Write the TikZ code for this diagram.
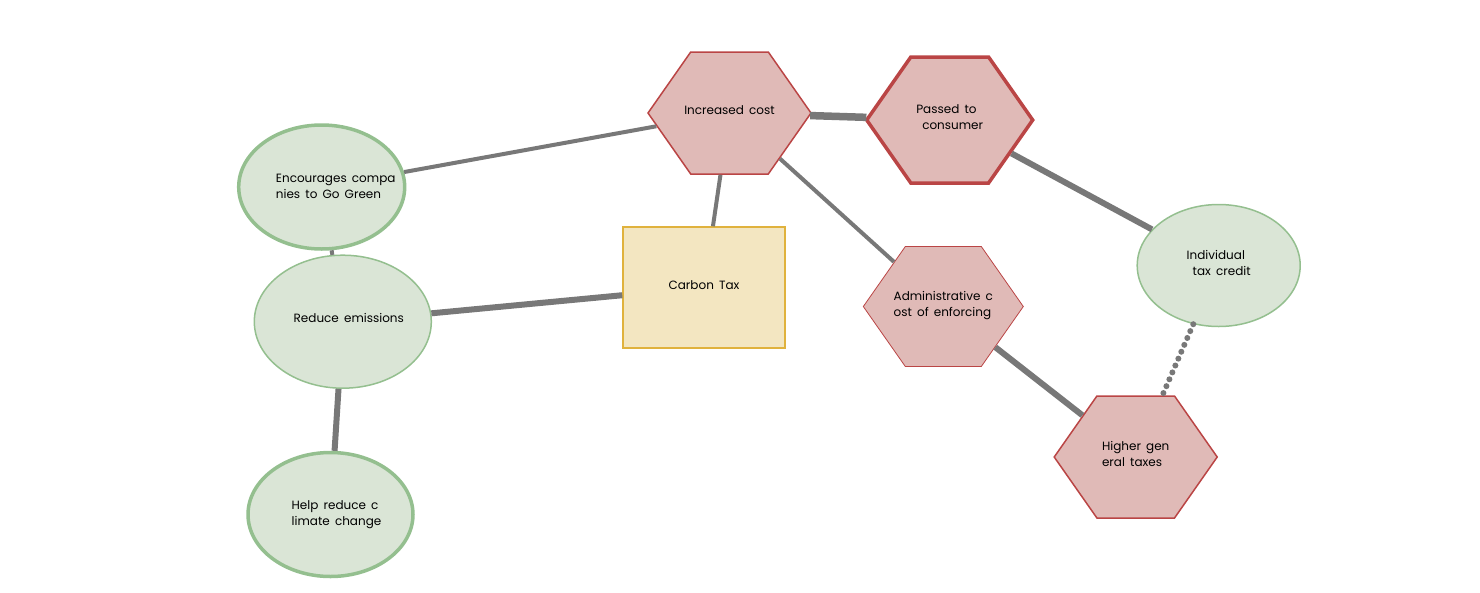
\documentclass[tikz,border=0pt]{standalone}
\usepackage{fontspec}
\usepackage{tikz}
\usetikzlibrary{shapes.geometric}
\usetikzlibrary{shapes.symbols}
\newfontfamily\labelfont{Poppins}[WordSpace=1.6]
\newcommand{\ntext}[3][0pt]{\smash{\raisebox{#2}{\makebox[0pt]{\hspace*{#1}\begin{tabular}{@{}l@{}}#3\end{tabular}}}}}
\definecolor{mgreen}{rgb}{0.855, 0.898, 0.839}
\definecolor{mgreenline}{rgb}{0.58, 0.75, 0.56}
\definecolor{mred}{rgb}{0.878, 0.729, 0.718}
\definecolor{mredline}{rgb}{0.73, 0.27, 0.27}
\definecolor{myellow}{rgb}{0.953, 0.902, 0.757}
\definecolor{myellowline}{rgb}{0.88, 0.70, 0.24}
\definecolor{mgray}{rgb}{0.47, 0.47, 0.47}
\tikzset{hexnode/.style = {signal, signal to=west and east, signal pointer angle=110,
                           draw=mredline, fill=mred, line width=1.5pt,
                           minimum width=163pt, minimum height=122pt, inner sep=0pt,
                           font=\labelfont\fontsize{12}{16}\selectfont},
         ovalnode/.style = {ellipse, draw=mgreenline, fill=mgreen, line width=1.5pt,
                            minimum width=165pt, minimum height=124pt, inner sep=0pt,
                            font=\labelfont\fontsize{12}{16}\selectfont},
         boxnode/.style = {rectangle, draw=myellowline, fill=myellow, line width=1.5pt,
                           minimum width=162pt, minimum height=121pt, inner sep=0pt,
                           font=\labelfont\fontsize{12}{16}\selectfont},
         link/.style = {draw=mgray, line width=4pt}}

\begin{document}
\begin{tikzpicture}[x=1pt, y=-1pt]
    \useasboundingbox (0, 0) rectangle (1480, 592);

    \node [boxnode] (ctax) at (704, 287.5) {\ntext{-1.5pt}{Carbon Tax}};
    \node [hexnode] (inc) at (729.5, 113) {\ntext{-1pt}{Increased cost}};
    \node [hexnode, minimum width=166pt, minimum height=126pt, line width=3.5pt] (pass) at (949.7, 120) {\ntext{-1pt}{Passed to\\\hspace{0.5em}consumer}};
    \node [hexnode, minimum width=160pt, minimum height=120pt, line width=0.8pt] (admin) at (943.3, 306.5) {\ntext{-2pt}{Administrative c\\ost of enforcing}};
    \node [hexnode] (higher) at (1135.7, 457) {\ntext{-1pt}{Higher gen\\eral taxes}};
    \node [ovalnode, minimum width=163pt, minimum height=122pt] (indiv) at (1218.7, 265.5) {\ntext{-2pt}{Individual\\\hspace{0.5em}tax credit}};
    \node [ovalnode, minimum width=166pt, line width=3.5pt] (enc) at (321.7, 187) {\ntext[28pt]{-3pt}{Encourages compa\\nies to Go Green}};
    \node [ovalnode, minimum width=177pt, minimum height=133pt] (red) at (342.8, 321.7) {\ntext[12pt]{-1pt}{Reduce emissions}};
    \node [ovalnode, line width=3.5pt] (help) at (330.5, 514.5) {\ntext[12pt]{-3pt}{Help reduce c\\limate change}};

    \draw [link] (enc) -- (inc);
    \draw [link] (enc) -- (red);
    \draw [link] (ctax) -- (inc);
    \draw [link, line width=6pt] (red) -- (ctax);
    \draw [link, line width=6pt] (red) -- (help);
    \draw [link, line width=7.5pt] (inc) -- (pass);
    \draw [link] (inc) -- (admin);
    \draw [link, line width=6pt] (pass) -- (indiv);
    \draw [link, line width=6pt] (admin) -- (higher);
    \draw [link, line width=6pt, dash pattern=on 0pt off 7.5pt, line cap=round] (indiv) -- (higher);
  \end{tikzpicture}
\end{document}
